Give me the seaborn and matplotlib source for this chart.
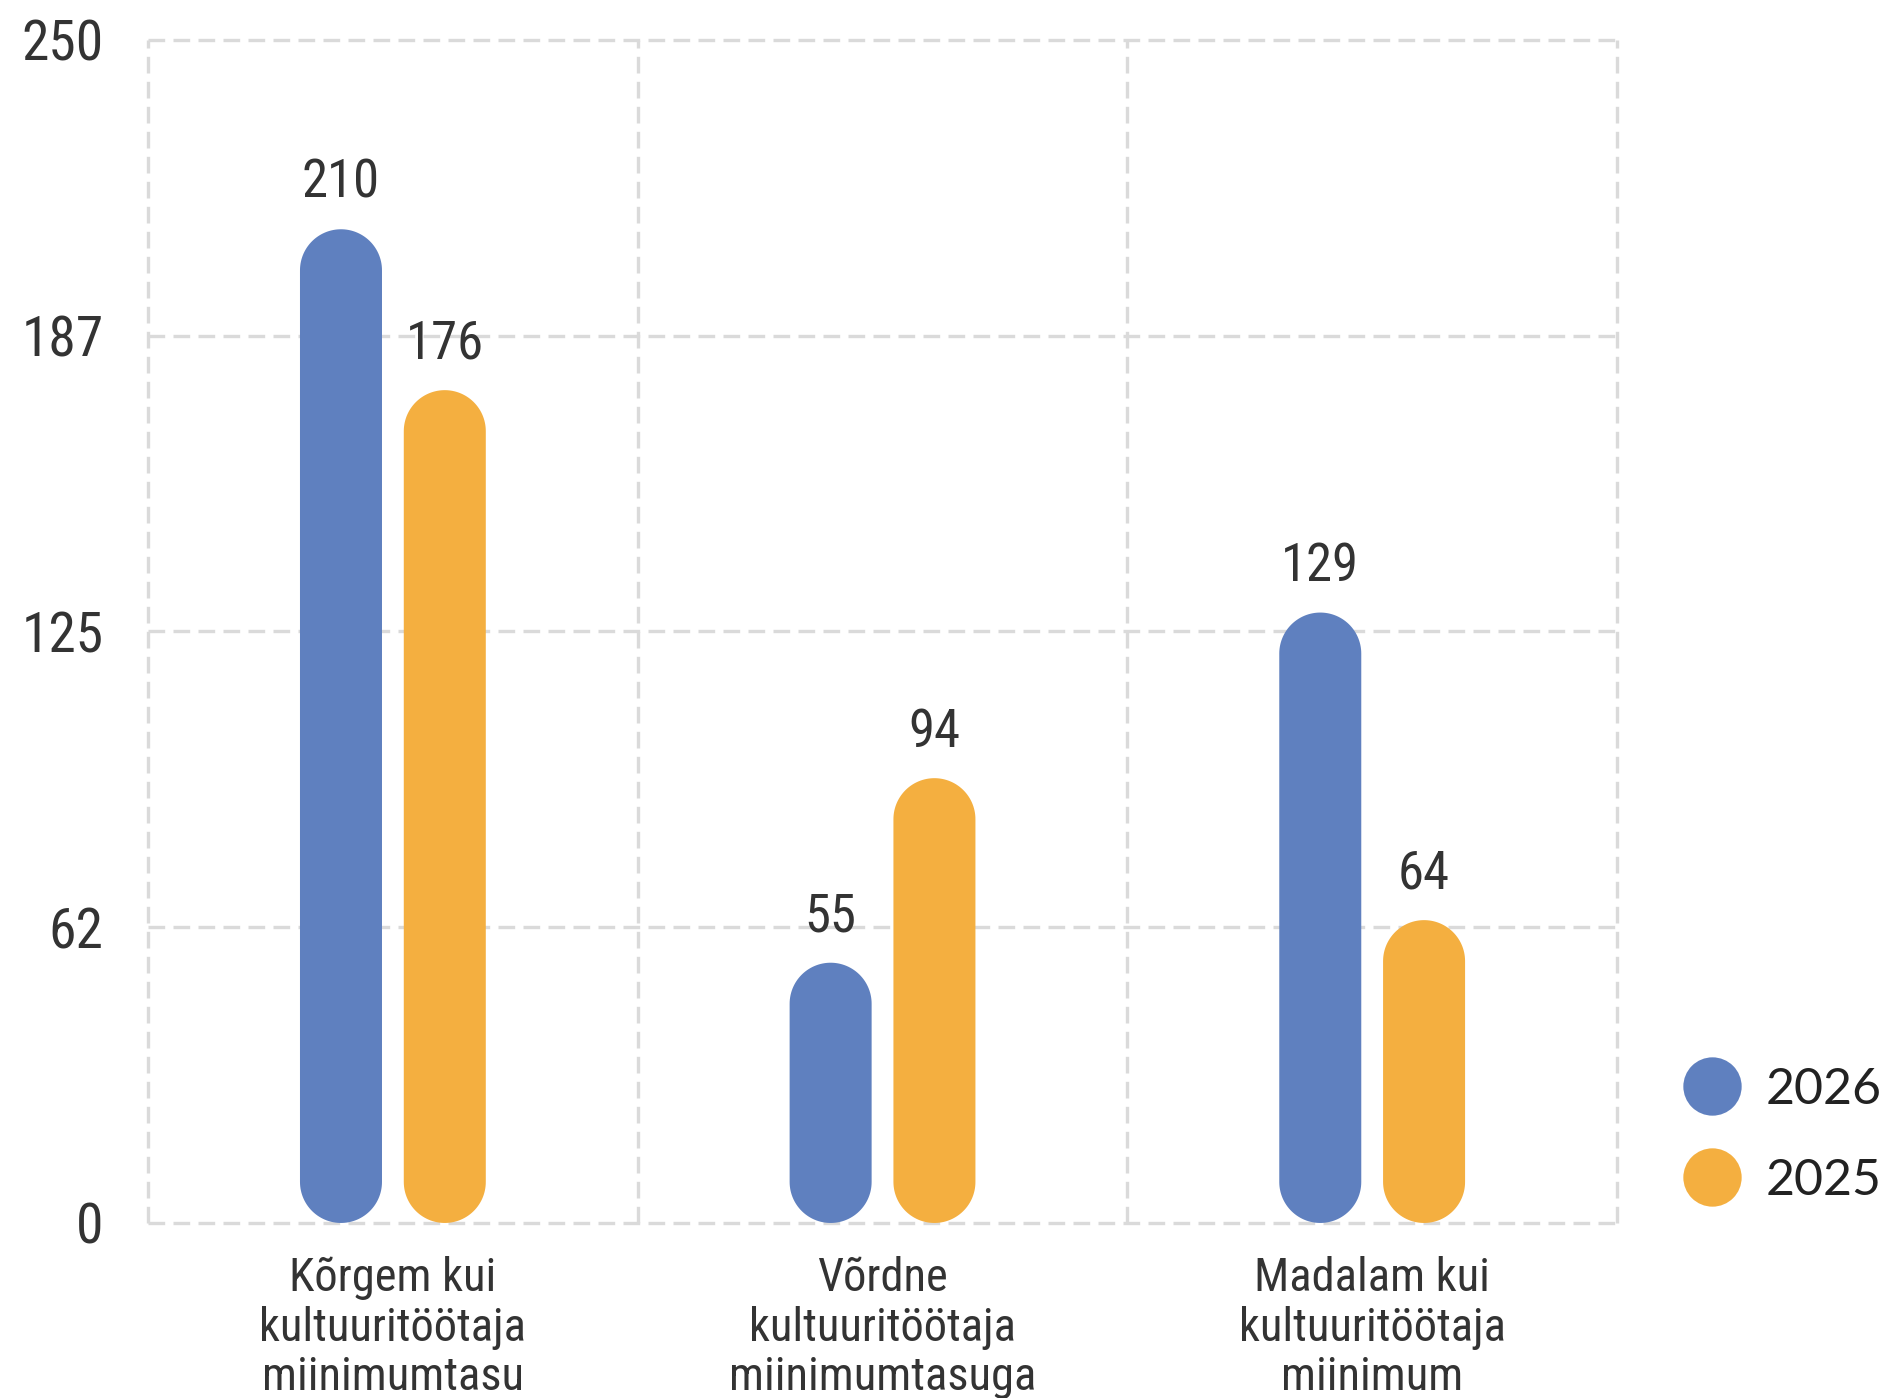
import pandas as pd
import numpy as np
import matplotlib
matplotlib.use("Agg")
import matplotlib.pyplot as plt
import seaborn as sns
from matplotlib.patches import Polygon
from matplotlib.lines import Line2D
from matplotlib import font_manager

categories = ["Kõrgem kui\nkultuuritöötaja\nmiinimumtasu",
              "Võrdne\nkultuuritöötaja\nmiinimumtasuga",
              "Madalam kui\nkultuuritöötaja\nmiinimum"]
years = ["2026", "2025"]
values_2026 = [210, 55, 129]
values_2025 = [176, 94, 64]
y_ticks = [0, 62.5, 125, 187.5, 250]
y_tick_labels = ["0", "62", "125", "187", "250"]
colors = {"2026": "#5F80BF", "2025": "#F4AF40"}

df = pd.DataFrame({
    "category": categories * 2,
    "year": [years[0]] * 3 + [years[1]] * 3,
    "value": values_2026 + values_2025,
})

sns.set_style("white")
names = {f.name for f in font_manager.fontManager.ttflist}
main_font = "Roboto Condensed" if "Roboto Condensed" in names else "Roboto"
plt.rcParams["font.family"] = [main_font, "DejaVu Sans"]

fig = plt.figure(figsize=(18.91, 13.98), dpi=100)
ax = fig.add_axes([0.0783, 0.1252, 0.7768, 0.8462])

sns.barplot(data=df, x="category", y="value", hue="year", hue_order=years,
            palette=colors, width=0.424, gap=0.21, saturation=1,
            legend=False, ax=ax)

ax.set_xlim(-0.5, 2.5)
ax.set_ylim(0, 250)

# swap the square bars for capsules (semicircle at both ends)
px_x = ax.transData.transform((1, 0))[0] - ax.transData.transform((0, 0))[0]
px_y = ax.transData.transform((0, 1))[1] - ax.transData.transform((0, 0))[1]
aspect = px_x / px_y
t_top = np.linspace(0, np.pi, 60)
t_bot = np.linspace(np.pi, 2 * np.pi, 60)


def capsule(x, w, h):
    r = w / 2
    ry = r * aspect
    xc = x + r
    top = np.column_stack([xc + r * np.cos(t_top), h - ry + ry * np.sin(t_top)])
    bot = np.column_stack([xc + r * np.cos(t_bot), ry + ry * np.sin(t_bot)])
    return np.vstack([top, bot])


for p in list(ax.patches):
    x, w, h = p.get_x(), p.get_width(), p.get_height()
    fc = p.get_facecolor()
    p.remove()
    ax.add_patch(Polygon(capsule(x, w, h), closed=True, fc=fc, ec="none",
                         zorder=3))
    ax.annotate(f"{h:.0f}", (x + w / 2, h), xytext=(0, 33),
                textcoords="offset points", ha="center", va="center",
                fontsize=38, color="#333333")

ax.set_yticks(y_ticks, y_tick_labels)
ax.set_xticks(range(len(categories)), categories)
ax.set_xticks([-0.5, 0.5, 1.5, 2.5], minor=True)
ax.set_xlabel("")
ax.set_ylabel("")
ax.tick_params(axis="y", length=0, pad=32, labelsize=40, labelcolor="#333333")
ax.tick_params(axis="x", which="both", length=0, pad=24, labelsize=33.5,
               labelcolor="#333333")
for lbl in ax.get_xticklabels():
    lbl.set_linespacing(1.15)

grid_kw = dict(color="#dadada", linestyle=(0, (5, 2.5)), linewidth=2.4)
ax.grid(axis="y", which="major", **grid_kw)
ax.grid(axis="x", which="minor", **grid_kw)
ax.grid(axis="x", which="major", visible=False)
for t in ax.xaxis.get_minor_ticks() + ax.yaxis.get_major_ticks():
    t.gridline.set_clip_on(False)
ax.set_axisbelow(True)
sns.despine(ax=ax, left=True, bottom=True)

handles = [Line2D([], [], marker="o", linestyle="none", markersize=42,
                  markerfacecolor=colors[y], markeredgecolor="none")
           for y in years]
fig.legend(handles, years, loc="center left", bbox_to_anchor=(0.892, 0.188),
           frameon=False, borderpad=0, borderaxespad=0, handlelength=1,
           handletextpad=0.58, labelspacing=0.9, labelcolor="#222222",
           prop={"family": "Lato", "size": 36, "weight": "normal"})

fig.savefig("out.png", dpi=100)
